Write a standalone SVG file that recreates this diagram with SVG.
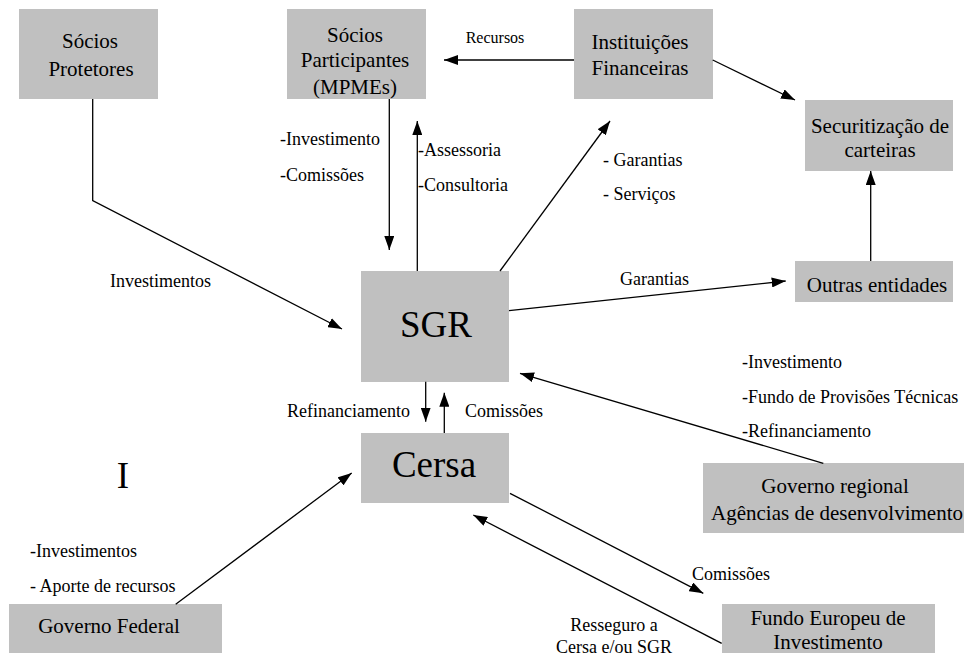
<svg xmlns="http://www.w3.org/2000/svg" width="974" height="658" viewBox="0 0 974 658">
<defs>
<marker id="ah" markerUnits="userSpaceOnUse" markerWidth="14" markerHeight="10" refX="14" refY="5" orient="auto">
<path d="M0,0 L14,5 L0,10 z" fill="#000"/>
</marker>
<style>
text{font-family:'Liberation Serif','Times New Roman',Tinos,'DejaVu Serif',serif;fill:#000}
.box{fill:#c0c0c0;stroke:none}
.nt{font-size:21px;text-anchor:middle}
.big{font-size:37px;text-anchor:middle}
.lb{font-size:18px}
.c{stroke:#000;stroke-width:1.3;fill:none;marker-end:url(#ah)}
</style>
</defs>
<rect width="974" height="658" fill="#fff"/>
<g id="socios-protetores" font-family="Liberation Serif, serif">
<rect class="box" x="19" y="9" width="139" height="90"/>
<text class="nt" x="90" y="48">Sócios</text>
<text class="nt" x="91" y="76">Protetores</text>
</g>
<g id="socios-participantes">
<rect class="box" x="287" y="9" width="139" height="90"/>
<text class="nt" x="355" y="42">Sócios</text>
<text class="nt" x="355" y="67">Participantes</text>
<text class="nt" x="355" y="94">(MPMEs)</text>
</g>
<g id="instituicoes-financeiras">
<rect class="box" x="574" y="9" width="139" height="90"/>
<text class="nt" x="640" y="49">Instituições</text>
<text class="nt" x="640" y="75">Financeiras</text>
</g>
<g id="securitizacao">
<rect class="box" x="805" y="100" width="148" height="71"/>
<text class="nt" x="880" y="133">Securitização de</text>
<text class="nt" x="880" y="157">carteiras</text>
</g>
<g id="outras-entidades">
<rect class="box" x="795" y="261" width="158" height="41"/>
<text class="nt" x="877" y="292">Outras entidades</text>
</g>
<g id="sgr">
<rect class="box" x="361" y="271" width="148" height="111"/>
<text class="big" x="436" y="337">SGR</text>
</g>
<g id="cersa">
<rect class="box" x="361" y="433" width="148" height="70"/>
<text class="big" x="434" y="477">Cersa</text>
</g>
<g id="governo-federal">
<rect class="box" x="9" y="604" width="213" height="49"/>
<text class="nt" x="109" y="633">Governo Federal</text>
</g>
<g id="governo-regional">
<rect class="box" x="703" y="463" width="261" height="70"/>
<text class="nt" x="835" y="493">Governo regional</text>
<text class="nt" x="837" y="520">Agências de desenvolvimento</text>
</g>
<g id="fundo-europeu">
<rect class="box" x="722" y="604" width="213" height="49"/>
<text class="nt" x="828" y="625">Fundo Europeu de</text>
<text class="nt" x="828" y="649">Investimento</text>
</g>
<g id="connectors">
<polyline class="c" points="92.7,99 92.7,200.7 342,329"/>
<line class="c" x1="389.3" y1="99" x2="389.3" y2="250"/>
<line class="c" x1="417.3" y1="271" x2="417.3" y2="121"/>
<line class="c" x1="574" y1="60" x2="444" y2="60"/>
<line class="c" x1="712.7" y1="60" x2="795" y2="100"/>
<line class="c" x1="500" y1="271" x2="610" y2="121"/>
<line class="c" x1="870.7" y1="261" x2="870.7" y2="171"/>
<line class="c" x1="509" y1="310.7" x2="785.7" y2="281"/>
<line class="c" x1="425.7" y1="381.7" x2="425.7" y2="421.7"/>
<line class="c" x1="444.3" y1="433" x2="444.3" y2="392.7"/>
<line class="c" x1="175.7" y1="604.3" x2="351.7" y2="473"/>
<line class="c" x1="510" y1="493.3" x2="703.3" y2="593.3"/>
<line class="c" x1="721.7" y1="643.3" x2="473.3" y2="515"/>
<line class="c" x1="823.3" y1="463.3" x2="520" y2="373.3"/>
</g>
<g id="labels">
<text class="lb" x="495" y="43" text-anchor="middle" style="font-size:16px">Recursos</text>
<text class="lb" x="280" y="145">-Investimento</text>
<text class="lb" x="280" y="181">-Comissões</text>
<text class="lb" x="418" y="156">-Assessoria</text>
<text class="lb" x="418" y="191">-Consultoria</text>
<text class="lb" x="603" y="166">- Garantias</text>
<text class="lb" x="603" y="200">- Serviços</text>
<text class="lb" x="110" y="287">Investimentos</text>
<text class="lb" x="620" y="285">Garantias</text>
<text class="lb" x="742" y="368">-Investimento</text>
<text class="lb" x="742" y="403">-Fundo de Provisões Técnicas</text>
<text class="lb" x="742" y="437">-Refinanciamento</text>
<text class="lb" x="410" y="417" text-anchor="end">Refinanciamento</text>
<text class="lb" x="465" y="417">Comissões</text>
<text class="big" x="123" y="488">I</text>
<text class="lb" x="30" y="557">-Investimentos</text>
<text class="lb" x="30" y="592">- Aporte de recursos</text>
<text class="lb" x="692" y="580">Comissões</text>
<text class="lb" x="614" y="631" text-anchor="middle">Resseguro a</text>
<text class="lb" x="614" y="653" text-anchor="middle">Cersa e/ou SGR</text>
</g>
</svg>
